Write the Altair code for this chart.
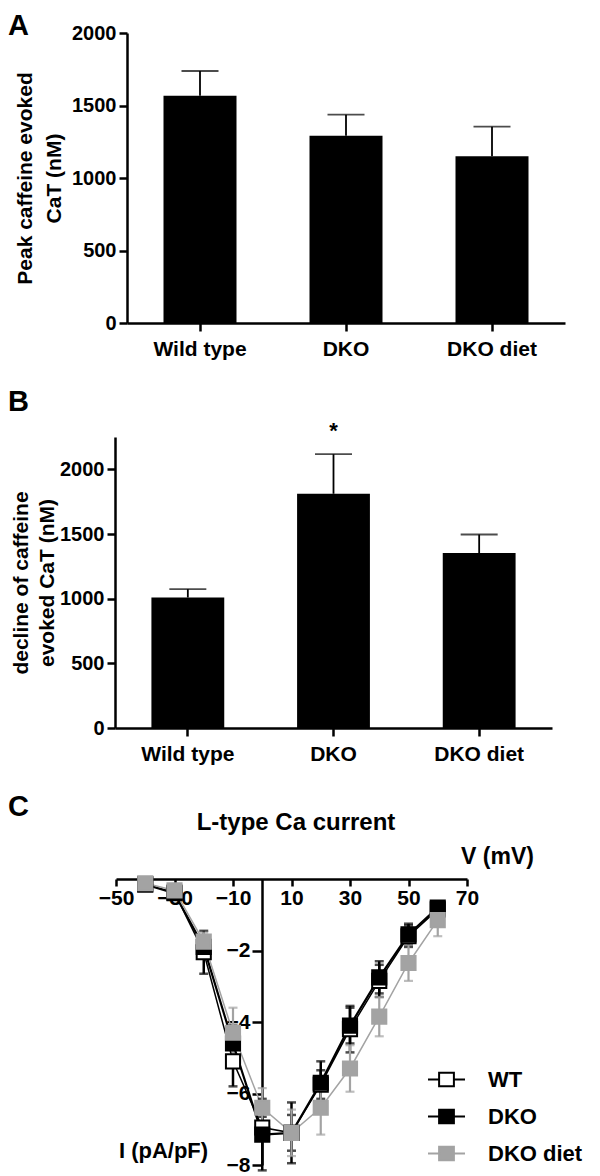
import altair as alt
import pandas as pd

FONT = "Liberation Sans"

# ---------------- data ----------------
groups = ["Wild type", "DKO", "DKO diet"]
peak_mean = [1567, 1292, 1150]
peak_sem = [171, 145, 204]
decline_mean = [1009, 1811, 1353]
decline_sem = [65, 306, 143]
star_group = ["DKO"]
star_y = [2240]

series = ["WT", "DKO", "DKO diet"]
volt = [-40, -30, -20, -10, 0, 10, 20, 30, 40, 50, 60]
wt_i = [-0.15, -0.38, -2.05, -5.1, -6.95, -7.1, -5.75, -4.2, -2.85, -1.6, -0.85]
wt_e = [0.05, 0.1, 0.6, 0.7, 0.3, 0.5, 0.4, 0.65, 0.45, 0.3, 0.15]
dko_i = [-0.15, -0.4, -1.9, -4.6, -7.15, -7.1, -5.7, -4.1, -2.75, -1.55, -0.8]
dko_e = [0.05, 0.1, 0.3, 0.5, 1.0, 0.85, 0.6, 0.5, 0.45, 0.3, 0.15]
diet_i = [-0.12, -0.32, -1.75, -4.3, -6.4, -7.1, -6.4, -5.3, -3.85, -2.35, -1.15]
diet_e = [0.05, 0.1, 0.25, 0.7, 0.55, 0.65, 0.75, 0.65, 0.55, 0.5, 0.45]

GRAY = "#a3a3a3"
line_colors = {"WT": "black", "DKO": "black", "DKO diet": GRAY}
line_widths = {"WT": 1.5, "DKO": 2.2, "DKO diet": 1.5}
err_widths = {"WT": 2.5, "DKO": 2.5, "DKO diet": 2.2}

axis_style = dict(
    domainColor="black", domainWidth=2.5, tickColor="black", tickWidth=2.5,
    labelColor="black", labelFont=FONT, labelFontWeight="bold",
    titleColor="black", titleFont=FONT, titleFontWeight="bold", grid=False,
)


def letter(txt, x, y):
    return alt.Chart(pd.DataFrame({"t": [txt]})).mark_text(
        align="left", baseline="top", fontSize=29, fontWeight="bold",
        font=FONT, color="black"
    ).encode(text="t:N", x=alt.value(x), y=alt.value(y))


def bar_panel(means, sems, title_lines, ymax, width, height, shift, title_x,
              line_h, lx, ly, star=False):
    df = pd.DataFrame({"group": groups, "mean": means, "sem": sems})
    df["top"] = df["mean"] + df["sem"]
    xscale = alt.Scale(paddingInner=0.5, paddingOuter=0.25, range=[shift, width])
    x = alt.X("group:N", sort=groups, scale=xscale,
              axis=alt.Axis(title=None, labelAngle=0, labelFontSize=21,
                            tickSize=8, labelPadding=7, **axis_style))
    yscale = alt.Scale(domain=[0, ymax], nice=False)
    y = alt.Y("mean:Q", scale=yscale,
              axis=alt.Axis(values=[0, 500, 1000, 1500, 2000], format="d",
                            offset=-shift,
                            title=title_lines, titleX=title_x, titleY=height / 2,
                            titleFontSize=21, titleLineHeight=line_h,
                            labelFontSize=20, tickSize=8, labelPadding=3,
                            **axis_style))
    base = alt.Chart(df)
    bars = base.mark_bar(color="black").encode(x=x, y=y)
    rule = base.mark_rule(color="black", strokeWidth=1.8).encode(
        x=alt.X("group:N", sort=groups, scale=xscale),
        y=alt.Y("mean:Q", scale=yscale), y2="top:Q")
    cap = base.mark_tick(color="black", thickness=1.8, size=37).encode(
        x=alt.X("group:N", sort=groups, scale=xscale),
        y=alt.Y("top:Q", scale=yscale))
    layers = [bars, rule, cap]
    if star:
        sdf = pd.DataFrame({"group": star_group, "y": star_y, "t": ["*"]})
        layers.append(alt.Chart(sdf).mark_text(
            fontSize=22, fontWeight="bold", font=FONT, color="black",
            baseline="alphabetic").encode(
            x=alt.X("group:N", sort=groups, scale=xscale),
            y=alt.Y("y:Q", scale=yscale), text="t:N"))
    layers.append(letter(lx, -107, ly))
    return alt.layer(*layers).properties(width=width, height=height)


panel_a = bar_panel(peak_mean, peak_sem, ["Peak caffeine evoked", "CaT (nM)"],
                    2000, 450, 290, 12, -92, 29, "A", -21)
panel_b = bar_panel(decline_mean, decline_sem, ["decline of caffeine", "evoked CaT (nM)"],
                    2250, 437, 291, 0, -84, 26, "B", -49, star=True)

# ---------------- panel C ----------------
rows = []
for s, ii, ee in [("WT", wt_i, wt_e), ("DKO", dko_i, dko_e), ("DKO diet", diet_i, diet_e)]:
    for v, i, e in zip(volt, ii, ee):
        rows.append({"series": s, "V": v, "I": i, "lo": i - e, "hi": i + e})
dfc = pd.DataFrame(rows)

W_C, H_C = 352, 286
xs = alt.Scale(domain=[-50, 70], nice=False, zero=False, range=[1, W_C])
ys = alt.Scale(domain=[-8, 0], nice=False, zero=False)
xc = alt.X("V:Q", scale=xs, axis=alt.Axis(
    orient="bottom", offset=-H_C, values=[-50, -30, -10, 10, 30, 50, 70],
    title="V (mV)", titleX=382, titleY=-23, titleAngle=0, titleAlign="center",
    titleBaseline="middle", titleFontSize=23, labelFontSize=21, tickSize=7,
    labelPadding=1, labelFlush=False, **axis_style))
yc = alt.Y("I:Q", scale=ys, axis=alt.Axis(
    orient="left", offset=-147, values=[-2, -4, -6, -8],
    title="I (pA/pF)", titleX=-99, titleY=271, titleAngle=0, titleAlign="center",
    titleBaseline="middle", titleFontSize=22, labelFontSize=21, tickSize=10,
    labelPadding=2, **axis_style))

base_c = alt.Chart(dfc)
c_layers = []
for s in series:
    sub = base_c.transform_filter(alt.datum.series == s)
    c_layers.append(sub.mark_line(color=line_colors[s], strokeWidth=line_widths[s]).encode(
        x=xc, y=yc))
for s in series:
    sub = base_c.transform_filter(alt.datum.series == s)
    c_layers.append(sub.mark_rule(color=line_colors[s], strokeWidth=err_widths[s]).encode(
        x=alt.X("V:Q", scale=xs), y=alt.Y("lo:Q", scale=ys), y2="hi:Q"))
    for col in ["lo", "hi"]:
        c_layers.append(sub.mark_tick(orient="horizontal", color=line_colors[s],
                                      thickness=err_widths[s], size=9).encode(
            x=alt.X("V:Q", scale=xs), y=alt.Y(f"{col}:Q", scale=ys)))

legend_kw = dict(
    title=None, orient="none", legendX=312, legendY=181, padding=0,
    symbolType="M-1,0L-0.4,0M0.4,0L1,0M-0.4,-0.36L0.4,-0.36L0.4,0.36L-0.4,0.36Z",
    symbolSize=1369, symbolStrokeWidth=2, labelFontSize=22, labelFont=FONT,
    labelFontWeight="bold", labelColor="black", labelOffset=22, rowPadding=6,
)
points = base_c.mark_point(shape="square", size=200, filled=True, opacity=1,
                           strokeWidth=2).encode(
    x=alt.X("V:Q", scale=xs), y=alt.Y("I:Q", scale=ys),
    stroke=alt.Stroke("series:N", scale=alt.Scale(domain=series, range=["black", "black", GRAY]),
                      legend=alt.Legend(**legend_kw)),
    fill=alt.Fill("series:N", scale=alt.Scale(domain=series, range=["white", "black", GRAY]),
                  legend=alt.Legend(**legend_kw)),
)
c_layers.append(points)

title_c = alt.Chart(pd.DataFrame({"t": ["L-type Ca current"]})).mark_text(
    align="center", baseline="alphabetic", fontSize=24, fontWeight="bold",
    font=FONT, color="black").encode(text="t:N", x=alt.value(181), y=alt.value(-49))
c_layers.append(title_c)
c_layers.append(letter("C", -107, -86))

panel_c = alt.layer(*c_layers).properties(width=W_C, height=H_C)

chart = alt.concat(panel_a, panel_b, panel_c, columns=1, spacing=29).properties(
    padding={"top": 4, "left": 0, "right": 0, "bottom": 0}, background="white"
).resolve_scale(stroke="independent", fill="independent").resolve_legend(
    stroke="independent", fill="independent"
).configure_view(stroke=None)

chart.save("out.html", embed_options={"renderer": "svg", "actions": False})
